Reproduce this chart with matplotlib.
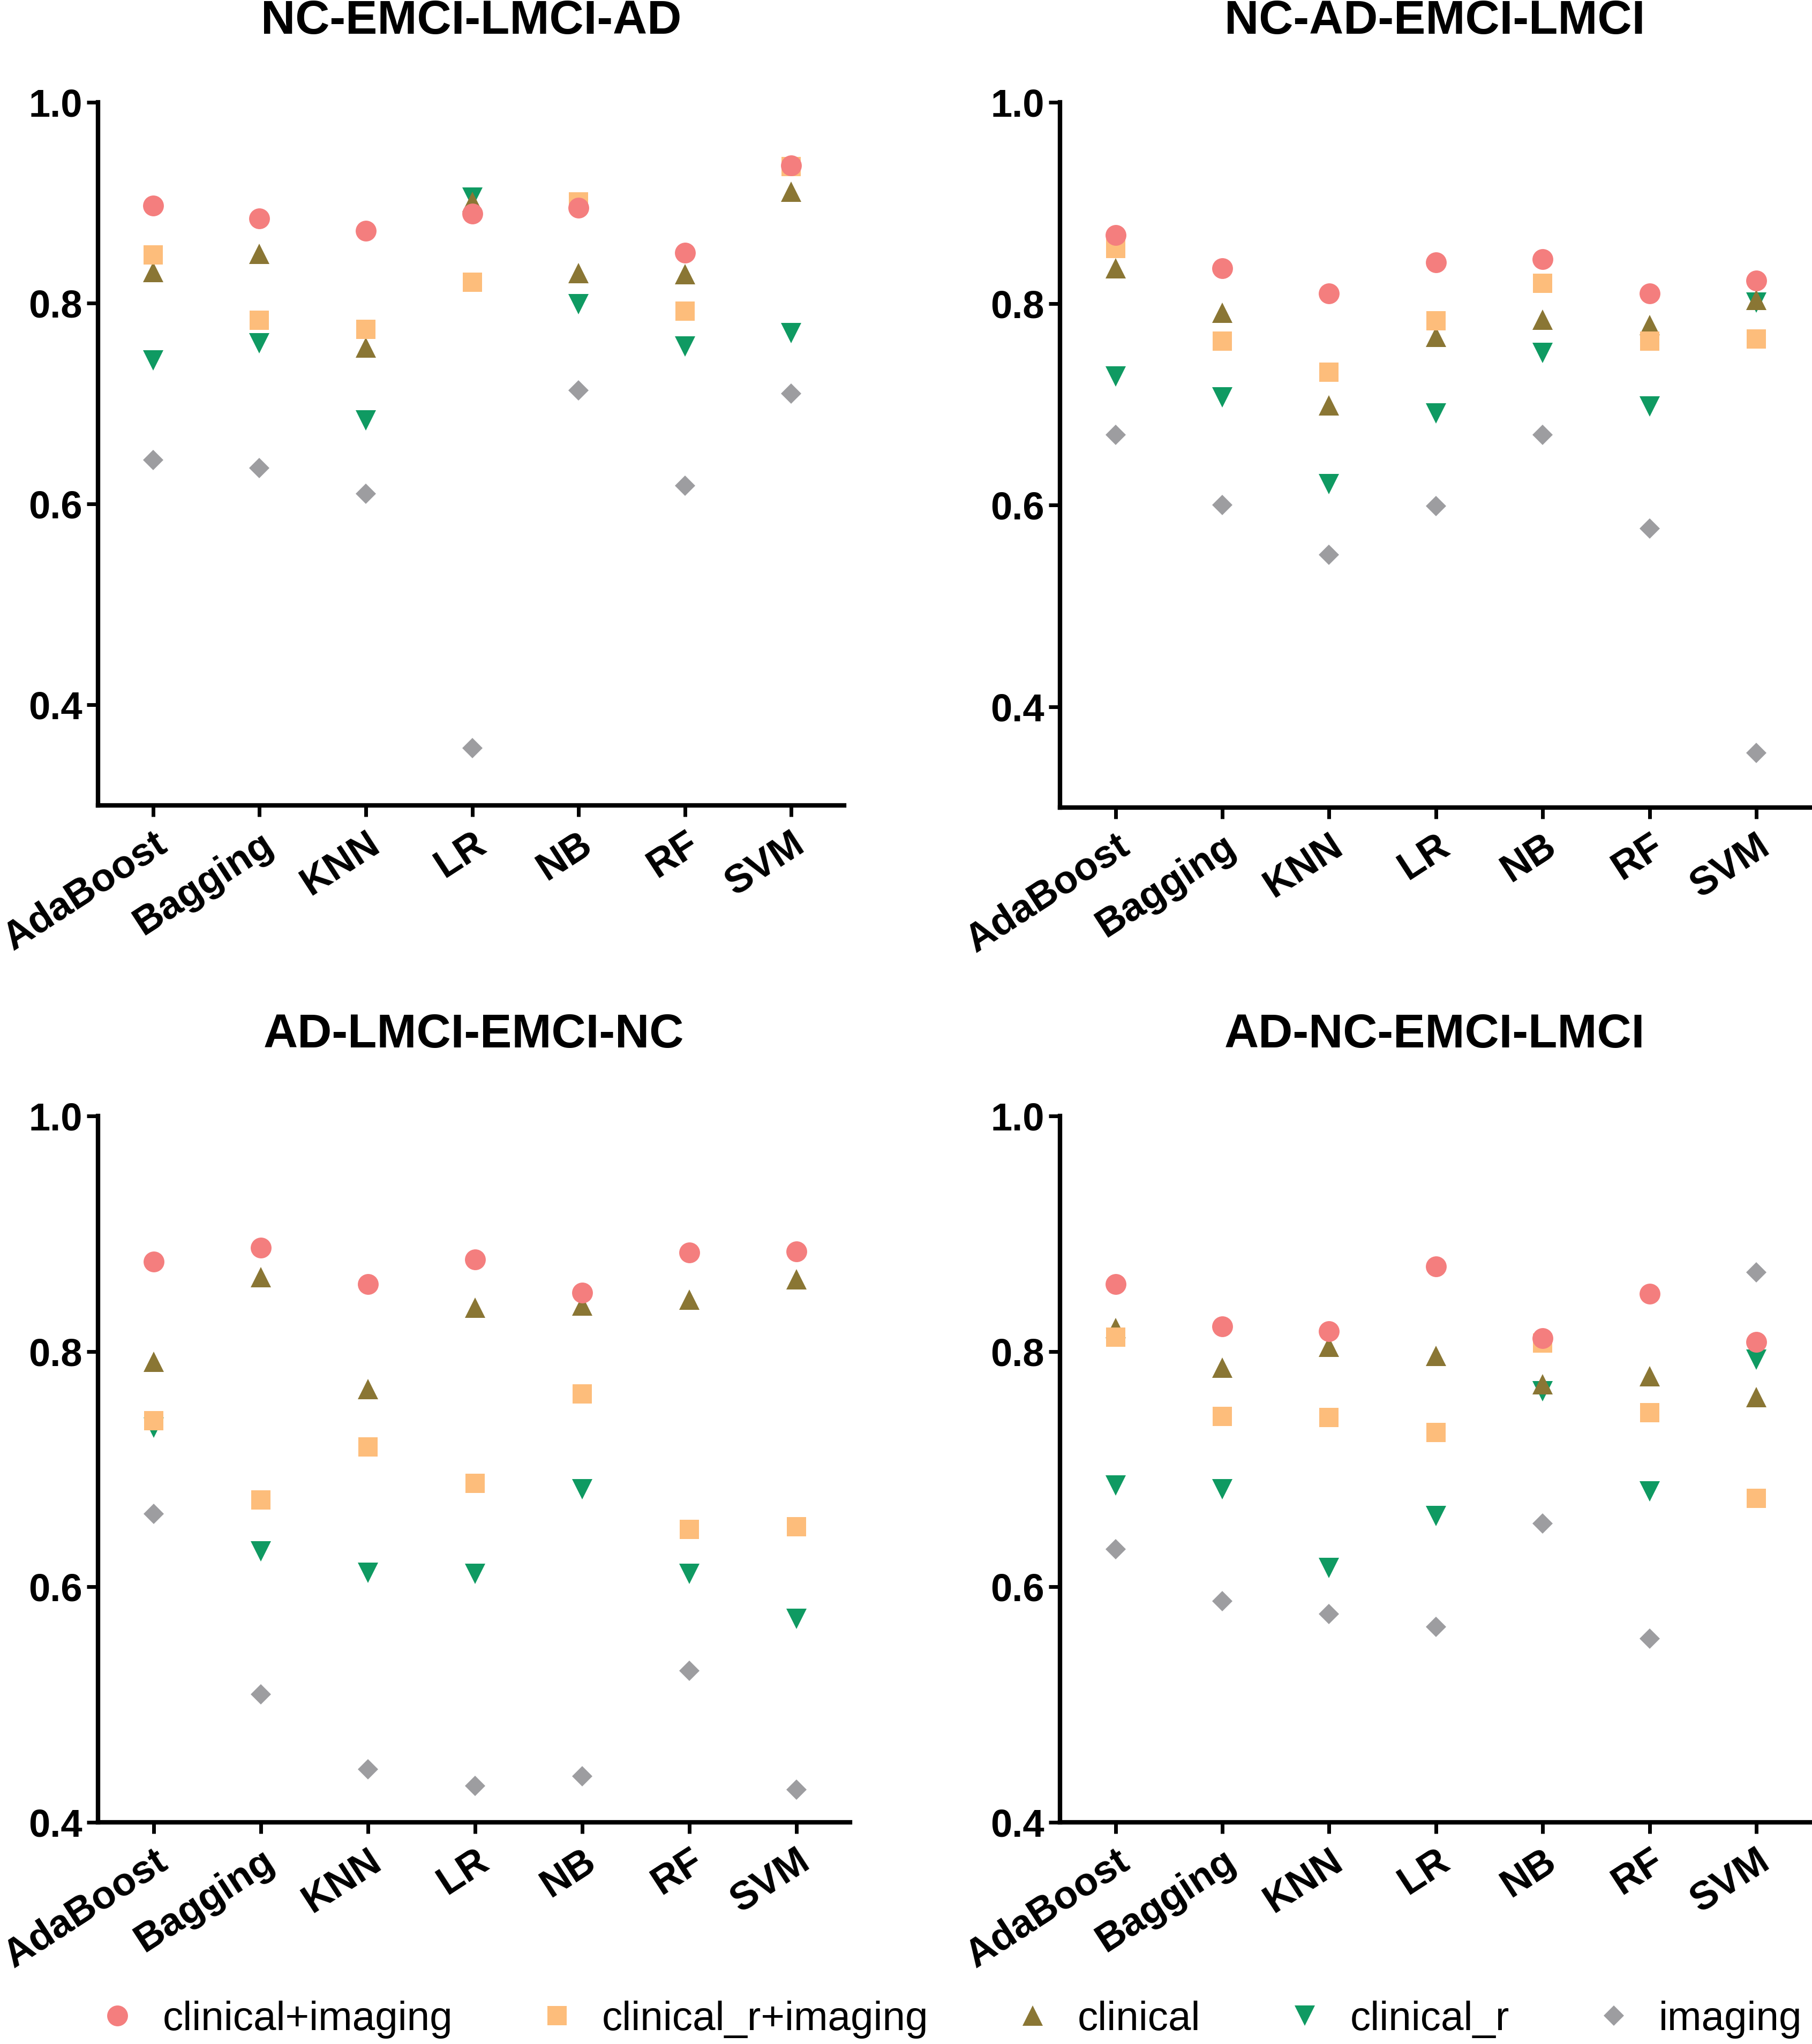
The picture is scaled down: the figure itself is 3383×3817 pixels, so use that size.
import matplotlib
matplotlib.use("Agg")
import matplotlib.pyplot as plt
from matplotlib.lines import Line2D

plt.rcParams['font.family'] = ['Liberation Sans', 'DejaVu Sans']

models = ["AdaBoost", "Bagging", "KNN", "LR", "NB", "RF", "SVM"]
series_names = ["clinical+imaging", "clinical_r+imaging", "clinical", "clinical_r", "imaging"]

titles = ["NC-EMCI-LMCI-AD", "NC-AD-EMCI-LMCI", "AD-LMCI-EMCI-NC", "AD-NC-EMCI-LMCI"]

# panel 1: NC-EMCI-LMCI-AD
p1_clin_img   = [0.897, 0.884, 0.872, 0.889, 0.895, 0.850, 0.937]
p1_clinr_img  = [0.848, 0.783, 0.774, 0.821, 0.901, 0.792, 0.936]
p1_clin       = [0.831, 0.849, 0.756, 0.901, 0.830, 0.829, 0.911]
p1_clinr      = [0.743, 0.760, 0.683, 0.905, 0.799, 0.757, 0.770]
p1_img        = [0.644, 0.636, 0.610, 0.357, 0.713, 0.618, 0.710]

# panel 2: NC-AD-EMCI-LMCI
p2_clin_img   = [0.868, 0.835, 0.810, 0.841, 0.844, 0.810, 0.823]
p2_clinr_img  = [0.855, 0.763, 0.732, 0.783, 0.820, 0.763, 0.765]
p2_clin       = [0.835, 0.791, 0.699, 0.767, 0.784, 0.779, 0.804]
p2_clinr      = [0.728, 0.707, 0.621, 0.691, 0.751, 0.698, 0.801]
p2_img        = [0.670, 0.600, 0.551, 0.599, 0.670, 0.577, 0.354]

# panel 3: AD-LMCI-EMCI-NC
p3_clin_img   = [0.876, 0.888, 0.857, 0.878, 0.850, 0.884, 0.885]
p3_clinr_img  = [0.741, 0.674, 0.719, 0.688, 0.764, 0.649, 0.651]
p3_clin       = [0.791, 0.863, 0.768, 0.837, 0.839, 0.844, 0.861]
p3_clinr      = [0.735, 0.630, 0.612, 0.611, 0.683, 0.611, 0.573]
p3_img        = [0.662, 0.509, 0.445, 0.431, 0.439, 0.529, 0.428]

# panel 4: AD-NC-EMCI-LMCI
p4_clin_img   = [0.857, 0.821, 0.817, 0.872, 0.811, 0.849, 0.808]
p4_clinr_img  = [0.812, 0.745, 0.744, 0.731, 0.807, 0.748, 0.675]
p4_clin       = [0.820, 0.786, 0.804, 0.796, 0.772, 0.779, 0.761]
p4_clinr      = [0.686, 0.683, 0.616, 0.660, 0.766, 0.681, 0.793]
p4_img        = [0.632, 0.588, 0.577, 0.566, 0.654, 0.556, 0.867]

panels = [
    [p1_clin_img, p1_clinr_img, p1_clin, p1_clinr, p1_img],
    [p2_clin_img, p2_clinr_img, p2_clin, p2_clinr, p2_img],
    [p3_clin_img, p3_clinr_img, p3_clin, p3_clinr, p3_img],
    [p4_clin_img, p4_clinr_img, p4_clin, p4_clinr, p4_img],
]
ylims = [(0.3, 1.0), (0.3, 1.0), (0.4, 1.0), (0.4, 1.0)]

colors = ['#F47E7E', '#FDBD7B', '#8A7634', '#0F9A62', '#9D9DA0']
markers = ['o', 's', '^', 'v', 'D']
msizes = [28, 26, 27, 27, 19]
zorders = [7, 6, 5, 4, 3]

fig = plt.figure(figsize=(33.83, 38.17), dpi=100)

positions = [
    [0.054, 0.606, 0.412, 0.344],
    [0.585, 0.605, 0.4137, 0.345],
    [0.054, 0.1084, 0.415, 0.3457],
    [0.585, 0.1084, 0.4137, 0.3457],
]

x = list(range(len(models)))
for k in range(4):
    ax = fig.add_axes(positions[k])
    for s in range(5):
        ax.plot(x, panels[k][s], linestyle='none', marker=markers[s],
                markersize=msizes[s], color=colors[s], markeredgewidth=0,
                zorder=zorders[s], clip_on=False)
    ax.set_xlim(-0.52, 6.5)
    ax.set_ylim(*ylims[k])
    ax.set_yticks([0.4, 0.6, 0.8, 1.0])
    ax.set_yticklabels(["0.4", "0.6", "0.8", "1.0"], fontsize=52, fontweight='bold')
    ax.set_xticks(x)
    ax.set_xticklabels(models, fontsize=53, fontweight='bold', rotation=33,
                       ha='right', va='top', rotation_mode='anchor')
    for sp in ['top', 'right']:
        ax.spines[sp].set_visible(False)
    for sp in ['left', 'bottom']:
        ax.spines[sp].set_linewidth(6)
    ax.tick_params(axis='both', width=5, length=15, direction='out')
    ax.tick_params(axis='y', pad=6)
    ax.tick_params(axis='x', pad=12)
    ax.set_title(titles[k], fontsize=64, fontweight='bold', pad=92)

handles = [Line2D([], [], linestyle='none', marker=markers[s], markersize=msizes[s],
                  color=colors[s], markeredgewidth=0) for s in range(5)]
fig.legend(handles, series_names, loc='center', bbox_to_anchor=(0.524, 0.012),
           ncol=5, frameon=False, fontsize=55, handlelength=1.0, handletextpad=0.6,
           columnspacing=2.05, borderpad=0.1)

fig.savefig("out.png", dpi=100)
